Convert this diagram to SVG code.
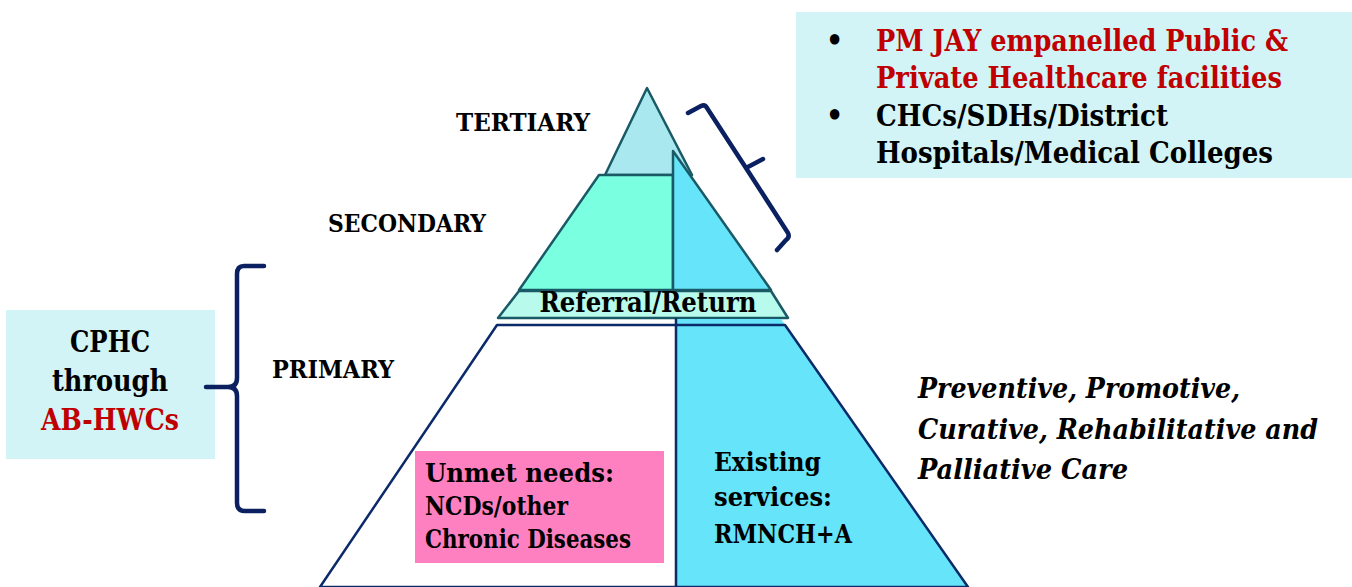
<svg xmlns="http://www.w3.org/2000/svg" width="1352" height="587" viewBox="0 0 1352 587">
<style>
text{font-family:"DejaVu Serif Condensed","DejaVu Serif","Liberation Serif",serif;font-stretch:condensed;font-weight:bold;fill:#000}
.lbl{font-size:25px}
.box{font-size:30px}
.red{fill:#c00000}
.it{font-size:28px;font-style:italic}
.sm{font-size:26px}
.tri{stroke:#1a5a66;stroke-width:2.5;stroke-linejoin:round}
.prim{stroke:#0a2a6a;stroke-width:2.5;stroke-linejoin:round}
.brace{fill:none;stroke:#0a2060;stroke-width:4.5;stroke-linecap:round;stroke-linejoin:round}
</style>
<rect width="1352" height="587" fill="#fff"/>
<g id="tertiary">
<polygon class="tri" points="647,88 605,175 692,175" fill="#a8e8ee"/>
</g>
<g id="secondary">
<polygon class="tri" points="599,175 673,175 673,290 519,290" fill="#7affe0"/>
<polygon class="tri" points="673,151 771,290 673,290" fill="#66e4fa"/>
</g>
<g id="referral">
<polygon class="tri" points="519,291 771,291 788,318 498,318" fill="#b8faec"/>
<text x="648" y="312" text-anchor="middle" textLength="217" lengthAdjust="spacingAndGlyphs" style="font-size:28px">Referral/Return</text>
</g>
<g id="primary">
<polygon points="676,319 781,319 968,587 676,587" fill="#66e4fa"/>
<polygon class="prim" points="497,325 785,325 968,587 320,587" fill="none"/>
<line class="prim" x1="676" y1="318" x2="676" y2="587"/>
</g>
<g id="unmet">
<rect x="415" y="451" width="249" height="112" fill="#ff80c0"/>
<text class="sm" x="425" y="482" textLength="189" lengthAdjust="spacingAndGlyphs">Unmet needs:</text>
<text class="sm" x="425" y="515" textLength="143" lengthAdjust="spacingAndGlyphs">NCDs/other</text>
<text class="sm" x="425" y="548" textLength="206" lengthAdjust="spacingAndGlyphs">Chronic Diseases</text>
</g>
<g id="existing">
<text class="sm" x="714" y="471" textLength="107" lengthAdjust="spacingAndGlyphs">Existing</text>
<text class="sm" x="714" y="506" textLength="118" lengthAdjust="spacingAndGlyphs">services:</text>
<text class="sm" x="714" y="543" textLength="138" lengthAdjust="spacingAndGlyphs">RMNCH+A</text>
</g>
<g id="labels">
<text class="lbl" x="456" y="131" textLength="134" lengthAdjust="spacingAndGlyphs">TERTIARY</text>
<text class="lbl" x="328" y="232" textLength="158" lengthAdjust="spacingAndGlyphs">SECONDARY</text>
<text class="lbl" x="272" y="378" textLength="122" lengthAdjust="spacingAndGlyphs">PRIMARY</text>
</g>
<g id="pmjay">
<rect x="796" y="12" width="556" height="166" fill="#d2f4f6"/>
<text class="box" x="826" y="50">•</text>
<text class="box red" x="876" y="51" textLength="412" lengthAdjust="spacingAndGlyphs">PM JAY empanelled Public &amp;</text>
<text class="box red" x="876" y="88" textLength="406" lengthAdjust="spacingAndGlyphs">Private Healthcare facilities</text>
<text class="box" x="826" y="125">•</text>
<text class="box" x="876" y="126" textLength="292" lengthAdjust="spacingAndGlyphs">CHCs/SDHs/District</text>
<text class="box" x="876" y="163" textLength="397" lengthAdjust="spacingAndGlyphs">Hospitals/Medical Colleges</text>
</g>
<g id="cphc">
<rect x="6" y="310" width="209" height="149" fill="#d2f4f6"/>
<text class="box" x="110" y="352" text-anchor="middle" textLength="80" lengthAdjust="spacingAndGlyphs">CPHC</text>
<text class="box" x="110" y="391" text-anchor="middle" textLength="116" lengthAdjust="spacingAndGlyphs">through</text>
<text class="box red" x="110" y="430" text-anchor="middle" textLength="138" lengthAdjust="spacingAndGlyphs">AB-HWCs</text>
</g>
<g id="care">
<text class="it" x="918" y="398" textLength="322" lengthAdjust="spacingAndGlyphs">Preventive, Promotive,</text>
<text class="it" x="918" y="439" textLength="400" lengthAdjust="spacingAndGlyphs">Curative, Rehabilitative and</text>
<text class="it" x="918" y="479" textLength="210" lengthAdjust="spacingAndGlyphs">Palliative Care</text>
</g>
<g id="connectors">
<path class="brace" d="M264,266 L244,266 Q237,266 237,274 L237,378 Q237,387 228,387 L206,387 M228,387 Q237,387 237,396 L237,503 Q237,511 245,511 L264,511"/>
<path class="brace" d="M688,113 L701,106 Q705,104 707,108 L746,168 L763,159 M746,168 L788,233 Q790,237 786,240 L777,250"/>
</g>
</svg>
